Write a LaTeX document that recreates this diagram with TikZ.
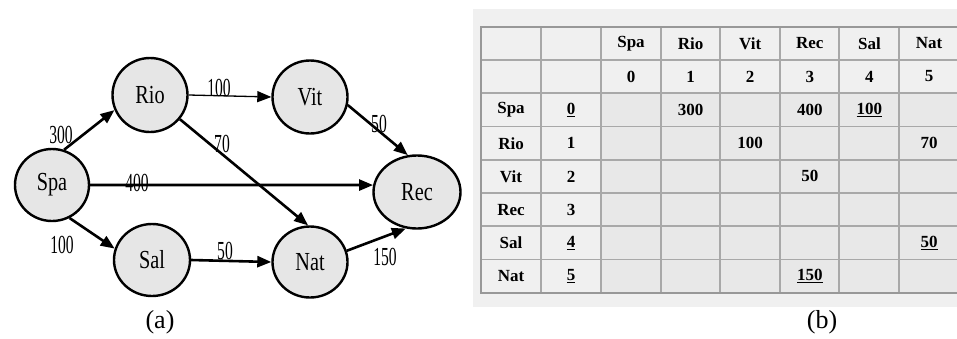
\documentclass[tikz,border=0pt]{standalone}
\usepackage{fontspec}
\setmainfont{Liberation Serif}
\usetikzlibrary{arrows.meta,shapes.geometric}
\definecolor{panelgray}{HTML}{F0F0F0}
\definecolor{headgray}{HTML}{F0F0F0}
\definecolor{cellgray}{HTML}{E8E8E8}
\definecolor{gridgray}{HTML}{A8A8A8}
\definecolor{bordgray}{HTML}{989898}
\definecolor{nodegray}{HTML}{E6E6E6}
\tikzset{
  city/.style={ellipse, draw=black, line width=2.4pt, fill=nodegray, inner sep=0pt,
    font=\fontsize{26}{26}\selectfont},
  arr/.style={line width=2.6pt, -{Triangle[length=14pt,width=11pt]}},
  thinarr/.style={line width=1.3pt, -{Triangle[length=14pt,width=11pt]}},
  lbl/.style={inner sep=0pt, font=\fontsize{26}{26}\selectfont, xscale=0.6},
  tcell/.style={inner sep=0pt, font=\fontsize{17}{17}\selectfont\bfseries},
  capt/.style={inner sep=0pt, font=\fontsize{26}{26}\selectfont},
}
\begin{document}
\begin{tikzpicture}[x=1pt,y=-1pt]
\useasboundingbox (0,0) rectangle (957,338);
\fill[white] (0,0) rectangle (957,338);
% ---------- panel (a): graph ----------
\node[city, minimum width=74pt, minimum height=72pt] (spa) at (52,185) {\scalebox{0.78}[1]{Spa}};
\node[city, minimum width=75pt, minimum height=74pt] (rio) at (150,95) {\scalebox{0.78}[1]{Rio}};
\node[city, minimum width=75pt, minimum height=73pt] (vit) at (310,97) {\scalebox{0.78}[1]{Vit}};
\node[city, minimum width=87pt, minimum height=73pt] (rec) at (417,192) {\scalebox{0.78}[1]{Rec}};
\node[city, minimum width=76pt, minimum height=72pt] (sal) at (152,260) {\scalebox{0.78}[1]{Sal}};
\node[city, minimum width=75pt, minimum height=71pt] (nat) at (310,262) {\scalebox{0.78}[1]{Nat}};

\draw[arr] (spa.71) -- (rio.203);
\draw[arr] (spa.298) -- (sal.163);
\draw[arr] (spa.east) -- (rec.171);
\draw[thinarr] (rio.east) -- (vit.west);
\draw[arr] (vit.-12) -- (rec.104);
\draw[arr] (rio.-39) -- (nat.93);
\draw[arr] (sal.east) -- (nat.west);
\draw[arr] (nat.17) -- (rec.253);

\node[lbl] (l300) at (61,135) {300};
\node[lbl] (l100a) at (219,88) {100};
\node[lbl] (l50a) at (379,124) {50};
\node[lbl] (l70) at (222,144) {70};
\node[lbl] (l400) at (137,183) {400};
\node[lbl] (l100b) at (62,245) {100};
\node[lbl] (l50b) at (225,251) {50};
\node[lbl] (l150) at (385,257) {150};

\node[capt] (capa) at (160,322) {(a)};
% ---------- panel (b): table ----------
\fill[panelgray] (473,9) rectangle (957,307);
\fill[headgray] (481,27) rectangle (957,93);
\fill[headgray] (481,93) rectangle (601,293);
\fill[cellgray] (601,93) rectangle (957,293);
\foreach \x in {541,601,661,720,780,839,899}
  \draw[gridgray, line width=1.3pt] (\x,27) -- (\x,293);
\foreach \y in {60,93,126.5,160,193,226,259.5}
  \draw[gridgray, line width=1.3pt] (481,\y) -- (957,\y);
\draw[bordgray, line width=2pt] (957,27) -- (481,27) -- (481,293) -- (957,293);

% header row
\foreach \t [count=\i from 0] in {Spa,Rio,Vit,Rec,Sal,Nat}
  \node[tcell] (h-\i) at ({631+59.6*\i},43.5) {\t};
\foreach \i in {0,...,5}
  \node[tcell] (n-\i) at ({631+59.6*\i},76.5) {\i};
% row labels
\foreach \t [count=\r from 0] in {Spa,Rio,Vit,Rec,Sal,Nat}
  \node[tcell] (r-\r) at (511,{110+33.2*\r}) {\t};
\node[tcell] (ri-0) at (571,110) {\underline{0}};
\node[tcell] (ri-1) at (571,143.2) {1};
\node[tcell] (ri-2) at (571,176.4) {2};
\node[tcell] (ri-3) at (571,209.6) {3};
\node[tcell] (ri-4) at (571,242.8) {\underline{4}};
\node[tcell] (ri-5) at (571,276) {\underline{5}};
% values
\node[tcell] (v01) at (690.6,110) {300};
\node[tcell] (v03) at (809.8,110) {400};
\node[tcell] (v04) at (869.4,110) {\underline{100}};
\node[tcell] (v12) at (750.2,143.2) {100};
\node[tcell] (v15) at (929,143.2) {70};
\node[tcell] (v23) at (809.8,176.4) {50};
\node[tcell] (v45) at (929,242.8) {\underline{50}};
\node[tcell] (v53) at (809.8,276) {\underline{150}};

\node[capt] (capb) at (822,322) {(b)};
\end{tikzpicture}
\end{document}
